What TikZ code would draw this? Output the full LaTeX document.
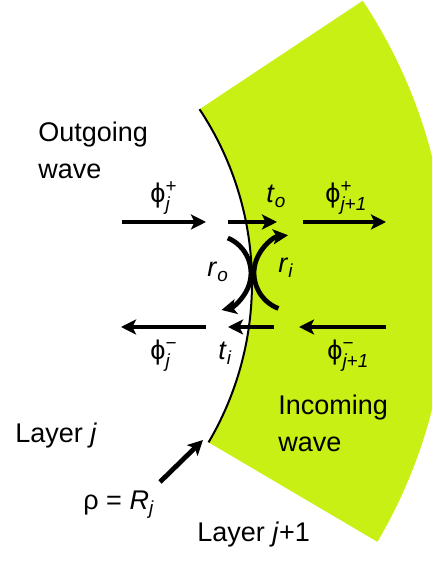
\documentclass[tikz,border=0pt]{standalone}
\usepackage{amsmath}
\usepackage{fontspec}
\setmainfont{Liberation Sans}
\usetikzlibrary{arrows.meta}
\definecolor{layerfill}{HTML}{C8F014}
\newcommand{\amp}[2]{\char"03D5$^{\text{#2}}_{\textit{#1}}$}
\newcommand{\coef}[2]{\textit{#1}$_{\textit{#2}}$}

\begin{document}
\begin{tikzpicture}[x=0.5pt,y=0.5pt,
    flow/.style={line width=2.4pt,-{Stealth[length=7.5pt,width=7.5pt,inset=1.8pt]}},
    lbl/.style={inner sep=0pt,anchor=base west,font=\fontsize{13.5}{18.5}\selectfont}]
  \useasboundingbox (0,0) rectangle (432,565);
  \clip (0,0) rectangle (432,565);
  % layer j+1 and the interface rho = R_j
  \begin{scope}[shift={(-62,282)}]
    \fill[layerfill] (-30.5:314) arc[start angle=-30.5,end angle=33.6,radius=314]
      -- (33.6:510) arc[start angle=33.6,end angle=-30.5,radius=510] -- cycle;
    \draw[line width=1pt] (-30.5:314) arc[start angle=-30.5,end angle=33.6,radius=314];
  \end{scope}
  \coordinate (Rj) at (203,125);
  \coordinate (rhoT) at (160,83);

  % outgoing row
  \coordinate (pJpA) at (122,343);  \coordinate (pJpB) at (206,343);
  \coordinate (toA) at (228,343);   \coordinate (toB) at (277,343);
  \coordinate (pJ1pA) at (303,343); \coordinate (pJ1pB) at (386,343);
  % incoming row
  \coordinate (pJmA) at (206,238);  \coordinate (pJmB) at (121,238);
  \coordinate (tiA) at (274,238);   \coordinate (tiB) at (228,238);
  \coordinate (pJ1mA) at (386,238); \coordinate (pJ1mB) at (299,238);
  % reflections
  \coordinate (roA) at (227.8,327);
  \coordinate (riA) at (278.4,256.5);

  \draw[flow] (pJpA) -- (pJpB);
  \draw[flow] (toA) -- (toB);
  \draw[flow] (pJ1pA) -- (pJ1pB);
  \draw[flow] (pJmA) -- (pJmB);
  \draw[flow] (tiA) -- (tiB);
  \draw[flow] (pJ1mA) -- (pJ1mB);
  \draw[flow] (roA) arc[start angle=67,end angle=-77,radius=38];
  \draw[flow] (riA) arc[start angle=249,end angle=96,radius=38];
  \draw[flow] (rhoT) -- (Rj);

  \node[lbl] (phiJp) at (150,362) {\amp{j}{+}};
  \node[lbl] (to) at (266,362) {\coef{t}{o}};
  \node[lbl] (phiJ1p) at (325,362) {\amp{j+1}{+}};
  \node[lbl] (phiJm) at (150,205) {\amp{j}{−}};
  \node[lbl] (ti) at (218,205) {\coef{t}{i}};
  \node[lbl] (phiJ1m) at (327,205) {\amp{j+1}{−}};
  \node[lbl] (ro) at (207,288) {\coef{r}{o}};
  \node[lbl] (ri) at (278,292) {\coef{r}{i}};

  \node[lbl,anchor=north west,align=left] (outgoing) at (38,443) {Outgoing\\wave};
  \node[lbl,anchor=north west,align=left] (incoming) at (278,170) {Incoming\\wave};
  \node[lbl] (layerJ) at (15,122) {Layer \textit{j}};
  \node[lbl] (layerJ1) at (197,23) {Layer \textit{j}+1};
  \node[lbl] (rho) at (83,55) {ρ = \coef{R}{j}};
\end{tikzpicture}
\end{document}
